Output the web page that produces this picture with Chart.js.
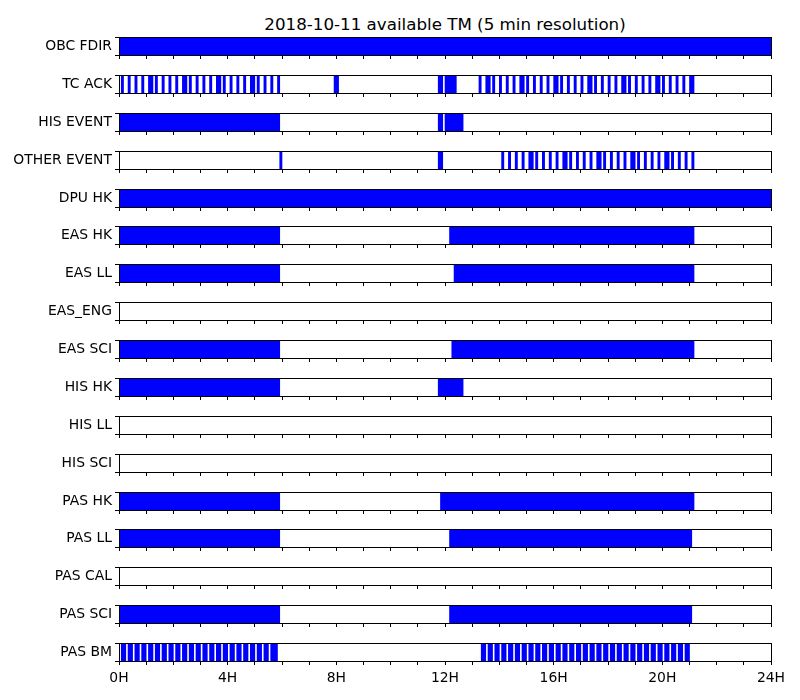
<!DOCTYPE html>
<html>
<head>
<meta charset="utf-8">
<script src="https://cdn.jsdelivr.net/npm/chart.js@4.4.0/dist/chart.umd.min.js"></script>
<style>
body { margin: 0; background: #fff; }
#wrap { position: relative; width: 800px; height: 700px; }
#title { position: absolute; left: 119px; width: 652px; top: 14px; line-height: 20px;
         text-align: center; font: 16.7px "DejaVu Sans"; color: #000; }
canvas { position: absolute; left: 0; }
</style>
</head>
<body>
<div id="wrap"><div id="title">2018-10-11 available TM (5 min resolution)</div></div>
<script>
// intervals are [start, end] in minutes of the day
var rowNames = ['OBC FDIR', 'TC ACK', 'HIS EVENT', 'OTHER EVENT', 'DPU HK', 'EAS HK', 'EAS LL',
    'EAS_ENG', 'EAS SCI', 'HIS HK', 'HIS LL', 'HIS SCI', 'PAS HK', 'PAS LL', 'PAS CAL', 'PAS SCI', 'PAS BM'];

var hourLabels = ['0H', '4H', '8H', '12H', '16H', '20H', '24H'];

var obcFdir = [[0, 1440]];
var tcAck = [[5, 10], [20, 25], [35, 40], [50, 55], [65, 75], [80, 85], [95, 100], [110, 115],
    [125, 130], [140, 150], [155, 160], [170, 175], [185, 190], [200, 205], [215, 225], [230, 235],
    [245, 250], [260, 265], [275, 280], [290, 300], [305, 310], [320, 325], [335, 340], [350, 355],
    [475, 485], [705, 715], [720, 745],
    [795, 800], [810, 820], [825, 830], [840, 845], [855, 860], [870, 875], [885, 895], [900, 905],
    [915, 920], [930, 935], [945, 950], [960, 970], [975, 980], [990, 995], [1005, 1010], [1020, 1025],
    [1035, 1045], [1050, 1055], [1065, 1070], [1080, 1085], [1095, 1100], [1110, 1120], [1125, 1130],
    [1140, 1145], [1155, 1160], [1170, 1175], [1185, 1195], [1200, 1205], [1215, 1220], [1230, 1235],
    [1245, 1250], [1260, 1270]];
var hisEvent = [[0, 355], [705, 715], [720, 760]];
var otherEvent = [[355, 360], [705, 715],
    [845, 850], [860, 865], [875, 880], [890, 895], [905, 915], [920, 925], [935, 940], [950, 955],
    [965, 970], [980, 990], [995, 1000], [1010, 1015], [1025, 1030], [1040, 1045], [1055, 1065],
    [1070, 1075], [1085, 1090], [1100, 1105], [1115, 1120], [1130, 1140], [1145, 1150], [1160, 1165],
    [1175, 1180], [1190, 1195], [1205, 1215], [1220, 1225], [1235, 1240], [1250, 1255], [1265, 1270]];
var dpuHk = [[0, 1440]];
var easHk = [[0, 355], [730, 1270]];
var easLl = [[0, 355], [740, 1270]];
var easEng = [];
var easSci = [[0, 355], [735, 1270]];
var hisHk = [[0, 355], [705, 760]];
var hisLl = [];
var hisSci = [];
var pasHk = [[0, 355], [710, 1270]];
var pasLl = [[0, 355], [730, 1265]];
var pasCal = [];
var pasSci = [[0, 355], [730, 1265]];
var pasBm = [[5, 15], [20, 30], [35, 45], [50, 60], [65, 75], [80, 90], [95, 105], [110, 120],
    [125, 135], [140, 150], [155, 165], [170, 180], [185, 195], [200, 210], [215, 225], [230, 240],
    [245, 255], [260, 270], [275, 285], [290, 300], [305, 315], [320, 330], [335, 350],
    [800, 810], [815, 825], [830, 840], [845, 855], [860, 870], [875, 885], [890, 900], [905, 915],
    [920, 930], [935, 945], [950, 960], [965, 975], [980, 990], [995, 1005], [1010, 1020], [1025, 1035],
    [1040, 1050], [1055, 1065], [1070, 1080], [1085, 1095], [1100, 1110], [1115, 1125], [1130, 1140],
    [1145, 1155], [1160, 1170], [1175, 1185], [1190, 1200], [1205, 1215], [1220, 1230], [1235, 1245],
    [1250, 1260]];

var rows = [obcFdir, tcAck, hisEvent, otherEvent, dpuHk, easHk, easLl, easEng, easSci,
    hisHk, hisLl, hisSci, pasHk, pasLl, pasCal, pasSci, pasBm];

// frame around each plot area
var boxPlugin = {
    id: 'box',
    afterDraw(chart) {
        var a = chart.chartArea;
        var ctx = chart.ctx;
        ctx.save();
        ctx.strokeStyle = '#000';
        ctx.lineWidth = 1;
        ctx.strokeRect(a.left + 0.5, a.top + 0.5, a.right - a.left, a.bottom - a.top);
        ctx.restore();
    }
};

var wrap = document.getElementById('wrap');
var font = { family: 'DejaVu Sans', size: 13.9 };

function noPad(scale) {
    scale.paddingTop = 0;
    scale.paddingBottom = 0;
    scale.paddingLeft = 0;
    scale.paddingRight = 0;
}

for (let i = 0; i < rowNames.length; i++) {
    let last = (i == rowNames.length - 1);
    let axisH = last ? 32 : 8;
    let top = Math.round(37 + 37.875 * i);

    let c = document.createElement('canvas');
    c.width = 800;
    c.height = 1 + 18 + axisH;
    c.style.top = (top - 1) + 'px';
    wrap.appendChild(c);

    new Chart(c.getContext('2d'), {
        type: 'bar',
        data: {
            labels: [rowNames[i]],
            datasets: [{
                data: rows[i].map(iv => ({ x: [iv[0], iv[1]], y: rowNames[i] })),
                backgroundColor: '#0000ff',
                borderWidth: 0,
                borderSkipped: false,
                categoryPercentage: 1,
                barPercentage: 1
            }]
        },
        options: {
            indexAxis: 'y',
            responsive: false,
            animation: false,
            layout: { padding: { top: 1, left: 0, right: 29, bottom: 0 } },
            plugins: { legend: { display: false }, tooltip: { enabled: false } },
            scales: {
                x: {
                    type: 'linear',
                    min: 0,
                    max: 1440,
                    border: { display: false },
                    grid: { drawOnChartArea: false, color: '#000', tickLength: 4 },
                    ticks: {
                        display: last,
                        stepSize: 60,
                        autoSkip: false,
                        maxRotation: 0,
                        color: '#000',
                        font: font,
                        padding: 5,
                        callback: (v) => (v % 240 == 0 ? hourLabels[v / 240] : '')
                    },
                    afterFit: (scale) => { scale.height = axisH; noPad(scale); }
                },
                y: {
                    type: 'category',
                    border: { display: false },
                    grid: { drawOnChartArea: false, color: '#000', tickLength: 4 },
                    ticks: { color: '#000', font: font, padding: 3 },
                    afterFit: (scale) => { scale.width = 119; noPad(scale); }
                }
            }
        },
        plugins: [boxPlugin]
    });
}
</script>
</body>
</html>
